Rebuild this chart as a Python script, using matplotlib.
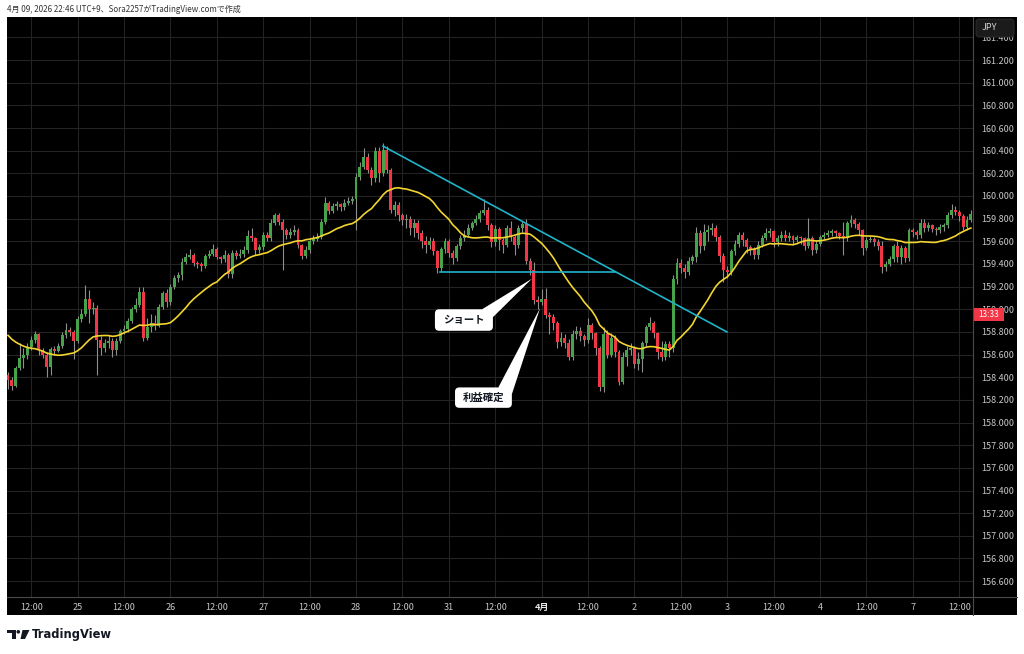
import matplotlib.pyplot as plt
from matplotlib.patches import FancyBboxPatch, Polygon, Rectangle, Circle
import numpy as np

plt.rcParams['font.family'] = ['Noto Sans CJK JP', 'DejaVu Sans']

W, H = 1024, 654

# --- data (1H candles, 24 Mar -> 7 Apr) ---
warmup_close = [159.02, 158.98, 158.95, 158.93, 158.90, 158.88, 158.86, 158.84, 158.82, 158.84,
                158.80, 158.78, 158.76, 158.74, 158.70, 158.66, 158.60, 158.52, 158.44]
open0 = 158.42
close = [
    158.38, 158.32, 158.48, 158.57, 158.60, 158.67, 158.73, 158.78, 158.64, 158.60,
    158.49, 158.65, 158.63, 158.68, 158.77, 158.82, 158.80, 158.72, 158.91, 158.96,
    159.09, 159.00, 159.01, 158.73, 158.66, 158.70, 158.72, 158.64, 158.72, 158.81,
    158.83, 158.90, 159.00, 159.04, 159.15, 158.75, 158.84, 158.88, 158.85, 159.02,
    159.14, 159.06, 159.20, 159.28, 159.30, 159.42, 159.46, 159.48, 159.41, 159.40,
    159.38, 159.47, 159.49, 159.53, 159.46, 159.44, 159.48, 159.31, 159.50, 159.47,
    159.49, 159.52, 159.65, 159.63, 159.52, 159.55, 159.66, 159.63, 159.76, 159.83,
    159.77, 159.70, 159.66, 159.68, 159.70, 159.57, 159.47, 159.52, 159.60, 159.62,
    159.64, 159.77, 159.94, 159.87, 159.91, 159.93, 159.90, 159.94, 159.96, 159.97,
    160.17, 160.26, 160.34, 160.23, 160.16, 160.40, 160.20, 160.41, 160.23, 159.88,
    159.92, 159.83, 159.79, 159.80, 159.72, 159.76, 159.67, 159.60, 159.57, 159.60,
    159.51, 159.36, 159.53, 159.60, 159.50, 159.45, 159.56, 159.63, 159.66, 159.72,
    159.76, 159.80, 159.85, 159.88, 159.74, 159.59, 159.71, 159.61, 159.57, 159.72,
    159.64, 159.57, 159.72, 159.75, 159.43, 159.35, 159.08, 159.06, 159.09, 158.95,
    158.93, 158.88, 158.71, 158.75, 158.70, 158.58, 158.78, 158.81, 158.76, 158.73,
    158.86, 158.79, 158.66, 158.31, 158.78, 158.60, 158.75, 158.62, 158.36, 158.58,
    158.64, 158.66, 158.52, 158.56, 158.70, 158.84, 158.88, 158.79, 158.62, 158.58,
    158.69, 158.66, 159.27, 159.41, 159.36, 159.33, 159.43, 159.46, 159.67, 159.56,
    159.68, 159.70, 159.72, 159.64, 159.47, 159.35, 159.33, 159.51, 159.58, 159.66,
    159.61, 159.55, 159.53, 159.48, 159.57, 159.63, 159.67, 159.69, 159.59, 159.63,
    159.66, 159.63, 159.65, 159.61, 159.64, 159.63, 159.56, 159.63, 159.52, 159.58,
    159.64, 159.66, 159.67, 159.69, 159.67, 159.65, 159.63, 159.76, 159.79, 159.75,
    159.70, 159.54, 159.61, 159.62, 159.59, 159.56, 159.37, 159.40, 159.44, 159.56,
    159.46, 159.54, 159.45, 159.70, 159.68, 159.66, 159.76, 159.72, 159.74, 159.71,
    159.70, 159.73, 159.74, 159.83, 159.88, 159.86, 159.82, 159.73, 159.79, 159.84,
]
high = [
    158.45, 158.40, 158.50, 158.70, 158.66, 158.70, 158.76, 158.81, 158.79, 158.66,
    158.62, 158.67, 158.68, 158.70, 158.80, 158.88, 158.84, 158.82, 158.94, 159.00,
    159.21, 159.17, 159.06, 159.04, 158.76, 158.74, 158.77, 158.75, 158.75, 158.83,
    158.86, 158.92, 159.02, 159.10, 159.20, 159.20, 158.92, 158.96, 158.95, 159.05,
    159.16, 159.18, 159.22, 159.30, 159.33, 159.45, 159.50, 159.53, 159.50, 159.43,
    159.42, 159.49, 159.52, 159.58, 159.55, 159.47, 159.52, 159.50, 159.52, 159.52,
    159.53, 159.56, 159.70, 159.72, 159.64, 159.58, 159.68, 159.68, 159.80, 159.85,
    159.85, 159.80, 159.72, 159.72, 159.74, 159.72, 159.58, 159.56, 159.63, 159.66,
    159.67, 159.80, 159.99, 159.96, 159.94, 159.96, 159.94, 159.97, 159.99, 160.00,
    160.20, 160.30, 160.42, 160.38, 160.26, 160.43, 160.43, 160.47, 160.44, 160.25,
    159.96, 159.95, 159.85, 159.84, 159.82, 159.80, 159.79, 159.70, 159.65, 159.64,
    159.63, 159.52, 159.55, 159.63, 159.62, 159.52, 159.58, 159.66, 159.70, 159.75,
    159.78, 159.83, 159.88, 159.97, 159.90, 159.76, 159.74, 159.73, 159.63, 159.74,
    159.78, 159.66, 159.74, 159.78, 159.80, 159.45, 159.42, 159.12, 159.18, 159.19,
    158.98, 158.96, 158.90, 158.80, 158.78, 158.74, 158.82, 158.85, 158.84, 158.78,
    158.92, 158.88, 158.80, 158.68, 158.84, 158.82, 158.79, 158.77, 158.64, 158.62,
    158.68, 158.70, 158.68, 158.62, 158.72, 158.86, 158.93, 158.90, 158.80, 158.72,
    158.72, 158.72, 159.30, 159.45, 159.44, 159.40, 159.46, 159.48, 159.73, 159.70,
    159.75, 159.74, 159.76, 159.74, 159.66, 159.50, 159.38, 159.53, 159.61, 159.68,
    159.68, 159.63, 159.57, 159.55, 159.60, 159.66, 159.72, 159.72, 159.70, 159.66,
    159.69, 159.70, 159.68, 159.66, 159.66, 159.65, 159.64, 159.81, 159.65, 159.61,
    159.66, 159.68, 159.70, 159.71, 159.70, 159.68, 159.77, 159.78, 159.83, 159.81,
    159.77, 159.71, 159.64, 159.65, 159.64, 159.62, 159.60, 159.43, 159.47, 159.58,
    159.60, 159.57, 159.56, 159.72, 159.72, 159.70, 159.80, 159.80, 159.77, 159.75,
    159.73, 159.75, 159.76, 159.86, 159.93, 159.91, 159.88, 159.84, 159.82, 159.88,
]
low = [
    158.30, 158.29, 158.31, 158.46, 158.48, 158.56, 158.64, 158.70, 158.60, 158.57,
    158.40, 158.42, 158.60, 158.62, 158.66, 158.75, 158.76, 158.56, 158.70, 158.89,
    158.94, 158.88, 158.96, 158.42, 158.60, 158.62, 158.66, 158.58, 158.60, 158.70,
    158.78, 158.80, 158.88, 158.98, 159.02, 158.72, 158.73, 158.80, 158.82, 158.84,
    159.00, 159.02, 159.04, 159.18, 159.24, 159.26, 159.40, 159.44, 159.38, 159.36,
    159.34, 159.36, 159.45, 159.47, 159.44, 159.41, 159.42, 159.28, 159.28, 159.44,
    159.45, 159.46, 159.50, 159.60, 159.48, 159.50, 159.52, 159.60, 159.60, 159.74,
    159.74, 159.35, 159.62, 159.63, 159.66, 159.54, 159.44, 159.45, 159.50, 159.58,
    159.60, 159.62, 159.75, 159.84, 159.85, 159.88, 159.87, 159.88, 159.92, 159.93,
    159.70, 160.14, 160.24, 160.20, 160.10, 160.12, 160.12, 160.18, 160.20, 159.85,
    159.82, 159.78, 159.74, 159.72, 159.66, 159.64, 159.62, 159.54, 159.50, 159.53,
    159.48, 159.32, 159.33, 159.50, 159.46, 159.40, 159.43, 159.53, 159.60, 159.64,
    159.70, 159.74, 159.77, 159.83, 159.70, 159.55, 159.56, 159.52, 159.50, 159.55,
    159.60, 159.48, 159.54, 159.68, 159.40, 159.30, 159.05, 159.00, 159.04, 158.92,
    158.78, 158.82, 158.66, 158.68, 158.66, 158.55, 158.55, 158.74, 158.72, 158.68,
    158.70, 158.74, 158.60, 158.28, 158.27, 158.57, 158.58, 158.58, 158.33, 158.34,
    158.50, 158.60, 158.48, 158.46, 158.45, 158.68, 158.82, 158.75, 158.56, 158.54,
    158.55, 158.58, 158.62, 159.22, 159.32, 159.28, 159.30, 159.40, 159.42, 159.50,
    159.52, 159.60, 159.66, 159.60, 159.42, 159.24, 159.28, 159.30, 159.48, 159.55,
    159.56, 159.50, 159.48, 159.44, 159.44, 159.55, 159.61, 159.64, 159.55, 159.56,
    159.60, 159.60, 159.60, 159.57, 159.59, 159.58, 159.52, 159.54, 159.48, 159.50,
    159.56, 159.62, 159.64, 159.65, 159.64, 159.62, 159.48, 159.60, 159.73, 159.72,
    159.66, 159.48, 159.52, 159.59, 159.56, 159.52, 159.32, 159.34, 159.38, 159.42,
    159.42, 159.40, 159.42, 159.43, 159.64, 159.62, 159.63, 159.68, 159.69, 159.68,
    159.66, 159.67, 159.69, 159.72, 159.81, 159.83, 159.78, 159.70, 159.70, 159.77,
]
ma_period = 20

time_labels = ['12:00', '25', '12:00', '26', '12:00', '27', '12:00', '28', '12:00', '31', '12:00',
               '4月', '12:00', '2', '12:00', '3', '12:00', '4', '12:00', '7', '12:00']
time_label_bars = list(range(6, 6 + 12 * len(time_labels), 12))
price_ticks = np.round(np.arange(156.6, 161.41, 0.2), 1)

# drawings on the chart (bar index, price)
trend_line = [(97.0, 160.44), (185.9, 158.80)]
support_line = [(111.7, 159.33), (157.0, 159.33)]
short_box = (110.4, 158.81, 125.4, 159.00)          # x0, y0, x1, y1
short_tail = [(122.6, 159.00), (125.4, 158.93), (135.5, 159.27)]
take_box = (115.6, 158.13, 130.3, 158.31)
take_tail = [(126.8, 158.31), (130.3, 158.25), (137.6, 159.01)]

GREEN = '#46a34a'
RED = '#f23645'
WICK = '#8f8f8f'
MA_COL = '#f2d52f'
CYAN = '#1fb3c9'
GRID = '#232323'
AXIS_TXT = '#c8c8c8'

close = np.array(close)
opens = np.r_[open0, close[:-1]]
high = np.maximum(np.array(high), np.maximum(opens, close))
low = np.minimum(np.array(low), np.minimum(opens, close))
idx = np.arange(len(close))
full = np.r_[warmup_close, close]
sma = np.convolve(full, np.ones(ma_period) / ma_period, mode='valid')

fig = plt.figure(figsize=(W / 100, H / 100), dpi=100, facecolor='white')


def fx(px):
    return px / W


def fy(py):
    return 1 - py / H


fig.add_artist(Rectangle((fx(7), fy(615)), fx(1017) - fx(7), fy(17) - fy(615),
                         transform=fig.transFigure, facecolor='black',
                         edgecolor='none', zorder=-5))

ax = fig.add_axes([fx(7), fy(597), fx(973) - fx(7), fy(17) - fy(597)])
ax.set_facecolor('black')
ax.set_xlim(-0.26, 249.55)
ax.set_ylim(156.46, 161.58)
for s in ax.spines.values():
    s.set_visible(False)

ax.grid(color=GRID, lw=0.8, zorder=0)
ax.set_axisbelow(True)

ax.yaxis.tick_right()
ax.set_yticks(price_ticks)
ax.set_yticklabels([f'{v:.3f}' for v in price_ticks])
ax.tick_params(axis='y', length=0, pad=6, labelcolor=AXIS_TXT, labelsize=6.5)
ax.set_xticks(time_label_bars)
ax.set_xticklabels(time_labels)
ax.tick_params(axis='x', length=0, pad=4.5, labelcolor=AXIS_TXT, labelsize=6.5)
for t in ax.get_xticklabels():
    if t.get_text() == '4月':
        t.set_fontweight('bold')
        t.set_color('#e8e8e8')

# candles
up = close >= opens
ax.vlines(idx, low, high, color=WICK, lw=0.8, zorder=2)
body = np.maximum(np.abs(close - opens), 0.008)
ax.bar(idx, body, bottom=np.minimum(opens, close), width=0.76,
       color=np.where(up, GREEN, RED), linewidth=0, zorder=3)

ax.plot(idx, sma, color=MA_COL, lw=1.2, zorder=4)

ax.plot(*zip(*trend_line), color=CYAN, lw=1.2, zorder=5)
ax.plot(*zip(*support_line), color=CYAN, lw=1.2, zorder=5)

aspect = (1 / 113.3) / (1 / 3.867)
for (x0, y0, x1, y1), tail, label in [(short_box, short_tail, 'ショート'),
                                       (take_box, take_tail, '利益確定')]:
    ax.add_patch(Polygon(tail, closed=True, facecolor='white', edgecolor='none', zorder=6))
    ax.add_patch(FancyBboxPatch((x0, y0), x1 - x0, y1 - y0,
                                boxstyle='round,pad=0,rounding_size=1.1',
                                mutation_aspect=aspect,
                                facecolor='white', edgecolor='none', zorder=6))
    ax.text((x0 + x1) / 2, (y0 + y1) / 2, label, ha='center', va='center',
            fontsize=7.5, fontweight='bold', color='#131722', zorder=7)

# overlay in pixel coordinates
ov = fig.add_axes([0, 0, 1, 1], zorder=10)
ov.set_xlim(0, W)
ov.set_ylim(H, 0)
ov.axis('off')

ov.plot([973, 973], [17, 615], color='#4a4a4a', lw=0.8)
ov.plot([7, 1017], [597, 597], color='#4a4a4a', lw=0.8)

ov.add_patch(FancyBboxPatch((976, 19), 38, 18, boxstyle='round,pad=0,rounding_size=3',
                            facecolor='#1b1b1b', edgecolor='#303030', lw=0.6))
ov.text(982, 28, 'JPY', ha='left', va='center', fontsize=6.5, color='#d8d8d8')

ov.add_patch(Rectangle((973, 308), 31, 12.5, facecolor=RED, edgecolor='none'))
ov.text(988.5, 314.2, '13:33', ha='center', va='center', fontsize=5.8, color='white')

ov.text(7, 9, '4月 09, 2026 22:46 UTC+9、Sora2257がTradingView.comで作成',
        ha='left', va='center', fontsize=5.8, color='#333333')

# TradingView logo
logo = '#131722'
ov.add_patch(Rectangle((7, 630), 8.5, 3.2, facecolor=logo, edgecolor='none'))
ov.add_patch(Rectangle((12, 630), 3.5, 9, facecolor=logo, edgecolor='none'))
ov.add_patch(Circle((18.3, 631.8), 1.8, facecolor=logo, edgecolor='none'))
ov.add_patch(Polygon([(22.5, 630), (29.5, 630), (25, 639), (20.5, 639)],
                     closed=True, facecolor=logo, edgecolor='none'))
ov.text(32, 634.5, 'TradingView', ha='left', va='center', fontsize=8.3,
        fontweight='bold', color=logo, family=['DejaVu Sans'])

fig.savefig('out.png', dpi=100, facecolor='white')
